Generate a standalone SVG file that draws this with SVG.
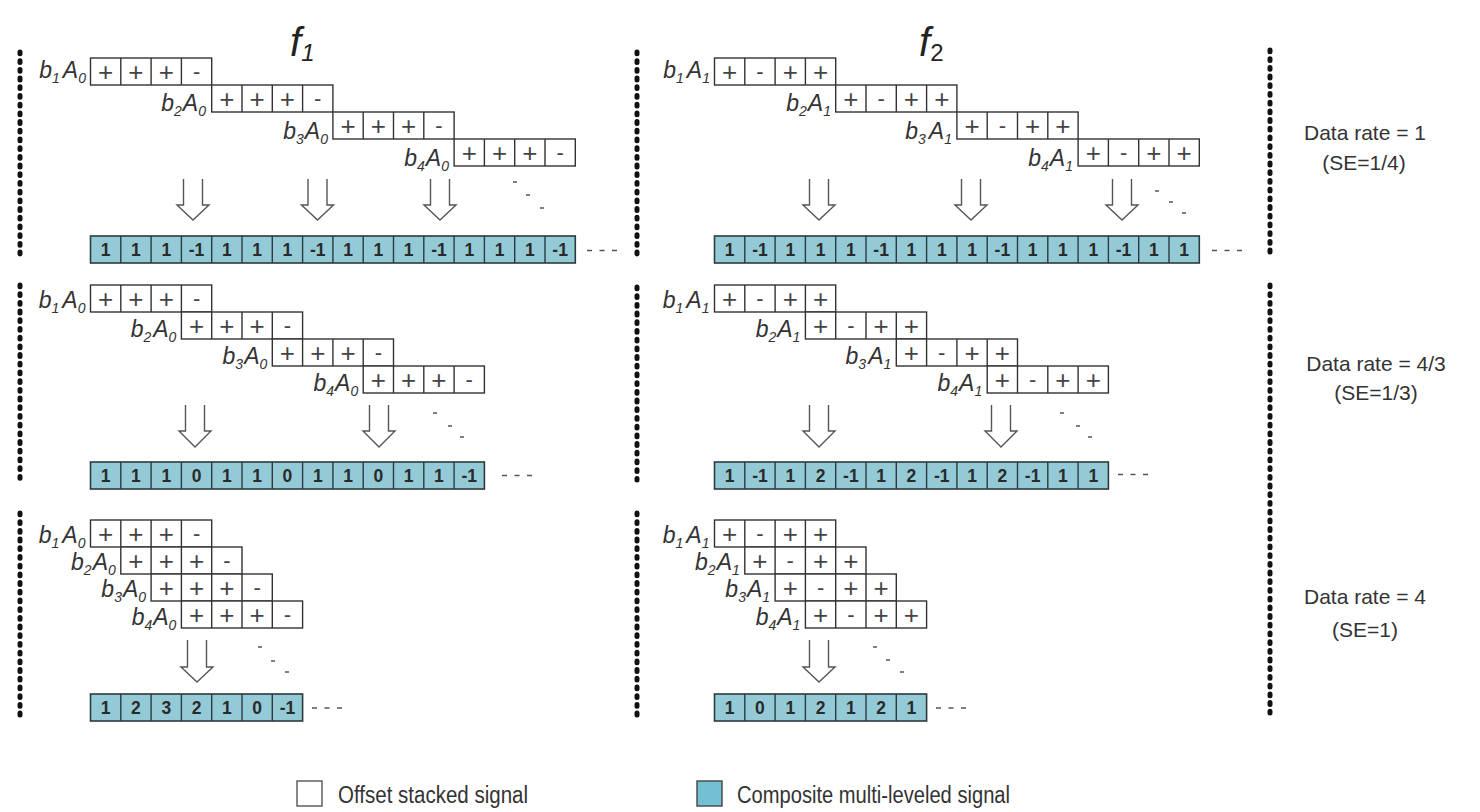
<svg xmlns="http://www.w3.org/2000/svg" xmlns:xlink="http://www.w3.org/1999/xlink" width="1480" height="812" viewBox="0 0 1480 812">
  <style>
    .box{fill:#fff;stroke:#333;stroke-width:1.4}
    .div{fill:none;stroke:#333;stroke-width:1.4}
    .sg{font-family:"Liberation Sans",Arial,sans-serif;font-size:26px;fill:#444;text-anchor:middle}
    .mn{font-family:"Liberation Sans",Arial,sans-serif;font-size:22px;fill:#444;text-anchor:middle}
    .comp{fill:#93cad6;stroke:#2b3b3e;stroke-width:1.6}
    .cdiv{fill:none;stroke:#2b3b3e;stroke-width:1.4}
    .num{font-family:"Liberation Sans",Arial,sans-serif;font-weight:bold;font-size:17.5px;fill:#2a2a2a;text-anchor:middle}
    .lbl{font-family:"Liberation Sans",Arial,sans-serif;font-style:italic;font-size:23px;fill:#333;text-anchor:end}
    .sub{font-size:14px}
    .title{font-family:"Liberation Sans",Arial,sans-serif;font-style:italic;font-size:40px;fill:#222}
    .arrow{fill:none;stroke:#555;stroke-width:1.4;stroke-linejoin:miter}
    .dots{fill:none;stroke:#111;stroke-width:5;stroke-linecap:round;stroke-dasharray:1.8 6.9}
    .dash{fill:none;stroke:#555;stroke-width:1.3}
    .trail{fill:none;stroke:#555;stroke-width:1.3;stroke-dasharray:5 7.5}
    .rate{font-family:"Liberation Sans",Arial,sans-serif;font-size:21px;fill:#333;text-anchor:middle}
    .leg{font-family:"Liberation Sans",Arial,sans-serif;font-size:23px;fill:#333}
  </style>
  <defs>
    <!-- spreading code rows, 4 chips of 30.3 x 27 -->
    <g id="codeA0">
      <rect class="box" x="0" y="0" width="121.2" height="27"/>
      <path class="div" d="M30.3 0v27M60.6 0v27M90.9 0v27"/>
      <text class="sg" x="15.15" y="22.5">+</text>
      <text class="sg" x="45.45" y="22.5">+</text>
      <text class="sg" x="75.75" y="22.5">+</text>
      <text class="mn" x="106.05" y="21">-</text>
    </g>
    <g id="codeA1">
      <rect class="box" x="0" y="0" width="121.2" height="27"/>
      <path class="div" d="M30.3 0v27M60.6 0v27M90.9 0v27"/>
      <text class="sg" x="15.15" y="22.5">+</text>
      <text class="mn" x="45.45" y="21">-</text>
      <text class="sg" x="75.75" y="22.5">+</text>
      <text class="sg" x="106.05" y="22.5">+</text>
    </g>
    <path id="div16" class="cdiv" d="M30.3 0v27M60.6 0v27M90.9 0v27M121.2 0v27M151.5 0v27M181.8 0v27M212.1 0v27M242.4 0v27M272.7 0v27M303 0v27M333.3 0v27M363.6 0v27M393.9 0v27M424.2 0v27M454.5 0v27"/>
    <path id="div13" class="cdiv" d="M30.3 0v27M60.6 0v27M90.9 0v27M121.2 0v27M151.5 0v27M181.8 0v27M212.1 0v27M242.4 0v27M272.7 0v27M303 0v27M333.3 0v27M363.6 0v27"/>
    <path id="div7" class="cdiv" d="M30.3 0v27M60.6 0v27M90.9 0v27M121.2 0v27M151.5 0v27M181.8 0v27"/>
  </defs>

  <rect width="1480" height="812" fill="#fff"/>

  <!-- column titles -->
  <g id="title-f1"><text class="title" x="290" y="56">f<tspan font-size="24" dy="5">1</tspan></text></g>
  <g id="title-f2"><text class="title" x="919" y="56">f<tspan font-size="24" font-style="normal" dy="5">2</tspan></text></g>

  <!-- dotted separators -->
  <g id="separators">
    <path class="dots" d="M20 52V254M20 285V480M20 513V720"/>
    <path class="dots" d="M637 52V254M637 287V480M637 513V720"/>
    <path class="dots" d="M1270 50V256M1270 285V718"/>
  </g>

  <!-- ===== rate 1 : f1 ===== -->
  <g id="r1-f1-b1"><use xlink:href="#codeA0" x="90.5" y="58"/><text class="lbl" x="86" y="78">b<tspan class="sub" dy="5">1</tspan><tspan dx="3" dy="-5">A</tspan><tspan class="sub" dy="5">0</tspan></text></g>
  <g id="r1-f1-b2"><use xlink:href="#codeA0" x="211.7" y="85"/><text class="lbl" x="206" y="111">b<tspan class="sub" dy="5">2</tspan><tspan dx="1" dy="-5">A</tspan><tspan class="sub" dy="5">0</tspan></text></g>
  <g id="r1-f1-b3"><use xlink:href="#codeA0" x="332.9" y="112"/><text class="lbl" x="328" y="139">b<tspan class="sub" dy="5">3</tspan><tspan dx="1" dy="-5">A</tspan><tspan class="sub" dy="5">0</tspan></text></g>
  <g id="r1-f1-b4"><use xlink:href="#codeA0" x="454.1" y="139"/><text class="lbl" x="449" y="166">b<tspan class="sub" dy="5">4</tspan><tspan dx="1" dy="-5">A</tspan><tspan class="sub" dy="5">0</tspan></text></g>
  <g id="r1-f1-sum" transform="translate(90.5 236)">
    <rect class="comp" width="484.8" height="27"/><use xlink:href="#div16"/>
    <text class="num" y="19.8"><tspan x="15.15">1</tspan><tspan x="45.45">1</tspan><tspan x="75.75">1</tspan><tspan x="106.05">-1</tspan><tspan x="136.35">1</tspan><tspan x="166.65">1</tspan><tspan x="196.95">1</tspan><tspan x="227.25">-1</tspan><tspan x="257.55">1</tspan><tspan x="287.85">1</tspan><tspan x="318.15">1</tspan><tspan x="348.45">-1</tspan><tspan x="378.75">1</tspan><tspan x="409.05">1</tspan><tspan x="439.35">1</tspan><tspan x="469.65">-1</tspan></text>
  </g>

  <!-- ===== rate 1 : f2 ===== -->
  <g id="r1-f2-b1"><use xlink:href="#codeA1" x="714.5" y="58"/><text class="lbl" x="710" y="78">b<tspan class="sub" dy="5">1</tspan><tspan dx="3" dy="-5">A</tspan><tspan class="sub" dy="5">1</tspan></text></g>
  <g id="r1-f2-b2"><use xlink:href="#codeA1" x="835.7" y="85"/><text class="lbl" x="831" y="111">b<tspan class="sub" dy="5">2</tspan><tspan dx="1" dy="-5">A</tspan><tspan class="sub" dy="5">1</tspan></text></g>
  <g id="r1-f2-b3"><use xlink:href="#codeA1" x="956.9" y="112"/><text class="lbl" x="952" y="139">b<tspan class="sub" dy="5">3</tspan><tspan dx="3" dy="-5">A</tspan><tspan class="sub" dy="5">1</tspan></text></g>
  <g id="r1-f2-b4"><use xlink:href="#codeA1" x="1078.1" y="139"/><text class="lbl" x="1073" y="166">b<tspan class="sub" dy="5">4</tspan><tspan dx="1" dy="-5">A</tspan><tspan class="sub" dy="5">1</tspan></text></g>
  <g id="r1-f2-sum" transform="translate(714.5 236)">
    <rect class="comp" width="484.8" height="27"/><use xlink:href="#div16"/>
    <text class="num" y="19.8"><tspan x="15.15">1</tspan><tspan x="45.45">-1</tspan><tspan x="75.75">1</tspan><tspan x="106.05">1</tspan><tspan x="136.35">1</tspan><tspan x="166.65">-1</tspan><tspan x="196.95">1</tspan><tspan x="227.25">1</tspan><tspan x="257.55">1</tspan><tspan x="287.85">-1</tspan><tspan x="318.15">1</tspan><tspan x="348.45">1</tspan><tspan x="378.75">1</tspan><tspan x="409.05">-1</tspan><tspan x="439.35">1</tspan><tspan x="469.65">1</tspan></text>
  </g>

  <!-- ===== rate 4/3 : f1 ===== -->
  <g id="r2-f1-b1"><use xlink:href="#codeA0" x="90.5" y="285"/><text class="lbl" x="85.5" y="308">b<tspan class="sub" dy="5">1</tspan><tspan dx="3" dy="-5">A</tspan><tspan class="sub" dy="5">0</tspan></text></g>
  <g id="r2-f1-b2"><use xlink:href="#codeA0" x="181.4" y="312"/><text class="lbl" x="176.4" y="337">b<tspan class="sub" dy="5">2</tspan><tspan dx="2" dy="-5">A</tspan><tspan class="sub" dy="5">0</tspan></text></g>
  <g id="r2-f1-b3"><use xlink:href="#codeA0" x="272.3" y="339"/><text class="lbl" x="267.3" y="364">b<tspan class="sub" dy="5">3</tspan><tspan dx="1" dy="-5">A</tspan><tspan class="sub" dy="5">0</tspan></text></g>
  <g id="r2-f1-b4"><use xlink:href="#codeA0" x="363.2" y="366"/><text class="lbl" x="358.2" y="391">b<tspan class="sub" dy="5">4</tspan><tspan dx="1" dy="-5">A</tspan><tspan class="sub" dy="5">0</tspan></text></g>
  <g id="r2-f1-sum" transform="translate(90.5 462)">
    <rect class="comp" width="393.9" height="27"/><use xlink:href="#div13"/>
    <text class="num" y="19.8"><tspan x="15.15">1</tspan><tspan x="45.45">1</tspan><tspan x="75.75">1</tspan><tspan x="106.05">0</tspan><tspan x="136.35">1</tspan><tspan x="166.65">1</tspan><tspan x="196.95">0</tspan><tspan x="227.25">1</tspan><tspan x="257.55">1</tspan><tspan x="287.85">0</tspan><tspan x="318.15">1</tspan><tspan x="348.45">1</tspan><tspan x="378.75">-1</tspan></text>
  </g>

  <!-- ===== rate 4/3 : f2 ===== -->
  <g id="r2-f2-b1"><use xlink:href="#codeA1" x="714.5" y="285"/><text class="lbl" x="709.5" y="308">b<tspan class="sub" dy="5">1</tspan><tspan dx="3" dy="-5">A</tspan><tspan class="sub" dy="5">1</tspan></text></g>
  <g id="r2-f2-b2"><use xlink:href="#codeA1" x="805.4" y="312"/><text class="lbl" x="800.4" y="337">b<tspan class="sub" dy="5">2</tspan><tspan dx="1" dy="-5">A</tspan><tspan class="sub" dy="5">1</tspan></text></g>
  <g id="r2-f2-b3"><use xlink:href="#codeA1" x="896.3" y="339"/><text class="lbl" x="891.3" y="364">b<tspan class="sub" dy="5">3</tspan><tspan dx="2" dy="-5">A</tspan><tspan class="sub" dy="5">1</tspan></text></g>
  <g id="r2-f2-b4"><use xlink:href="#codeA1" x="987.2" y="366"/><text class="lbl" x="982.2" y="391">b<tspan class="sub" dy="5">4</tspan><tspan dx="1" dy="-5">A</tspan><tspan class="sub" dy="5">1</tspan></text></g>
  <g id="r2-f2-sum" transform="translate(714.5 462)">
    <rect class="comp" width="393.9" height="27"/><use xlink:href="#div13"/>
    <text class="num" y="19.8"><tspan x="15.15">1</tspan><tspan x="45.45">-1</tspan><tspan x="75.75">1</tspan><tspan x="106.05">2</tspan><tspan x="136.35">-1</tspan><tspan x="166.65">1</tspan><tspan x="196.95">2</tspan><tspan x="227.25">-1</tspan><tspan x="257.55">1</tspan><tspan x="287.85">2</tspan><tspan x="318.15">-1</tspan><tspan x="348.45">1</tspan><tspan x="378.75">1</tspan></text>
  </g>

  <!-- ===== rate 4 : f1 ===== -->
  <g id="r3-f1-b1"><use xlink:href="#codeA0" x="90.5" y="520"/><text class="lbl" x="85.5" y="543">b<tspan class="sub" dy="5">1</tspan><tspan dx="3" dy="-5">A</tspan><tspan class="sub" dy="5">0</tspan></text></g>
  <g id="r3-f1-b2"><use xlink:href="#codeA0" x="120.8" y="547"/><text class="lbl" x="115.8" y="570">b<tspan class="sub" dy="5">2</tspan><tspan dx="1" dy="-5">A</tspan><tspan class="sub" dy="5">0</tspan></text></g>
  <g id="r3-f1-b3"><use xlink:href="#codeA0" x="151.1" y="574"/><text class="lbl" x="146.1" y="597">b<tspan class="sub" dy="5">3</tspan><tspan dx="1" dy="-5">A</tspan><tspan class="sub" dy="5">0</tspan></text></g>
  <g id="r3-f1-b4"><use xlink:href="#codeA0" x="181.4" y="601"/><text class="lbl" x="176.4" y="625">b<tspan class="sub" dy="5">4</tspan><tspan dx="1" dy="-5">A</tspan><tspan class="sub" dy="5">0</tspan></text></g>
  <g id="r3-f1-sum" transform="translate(90.5 694)">
    <rect class="comp" width="212.1" height="27"/><use xlink:href="#div7"/>
    <text class="num" y="19.8"><tspan x="15.15">1</tspan><tspan x="45.45">2</tspan><tspan x="75.75">3</tspan><tspan x="106.05">2</tspan><tspan x="136.35">1</tspan><tspan x="166.65">0</tspan><tspan x="196.95">-1</tspan></text>
  </g>

  <!-- ===== rate 4 : f2 ===== -->
  <g id="r3-f2-b1"><use xlink:href="#codeA1" x="714.5" y="520"/><text class="lbl" x="709.5" y="543">b<tspan class="sub" dy="5">1</tspan><tspan dx="3" dy="-5">A</tspan><tspan class="sub" dy="5">1</tspan></text></g>
  <g id="r3-f2-b2"><use xlink:href="#codeA1" x="744.8" y="547"/><text class="lbl" x="739.8" y="570">b<tspan class="sub" dy="5">2</tspan><tspan dx="1" dy="-5">A</tspan><tspan class="sub" dy="5">1</tspan></text></g>
  <g id="r3-f2-b3"><use xlink:href="#codeA1" x="775.1" y="574"/><text class="lbl" x="770.1" y="597">b<tspan class="sub" dy="5">3</tspan><tspan dx="1" dy="-5">A</tspan><tspan class="sub" dy="5">1</tspan></text></g>
  <g id="r3-f2-b4"><use xlink:href="#codeA1" x="805.4" y="601"/><text class="lbl" x="800.4" y="625">b<tspan class="sub" dy="5">4</tspan><tspan dx="1" dy="-5">A</tspan><tspan class="sub" dy="5">1</tspan></text></g>
  <g id="r3-f2-sum" transform="translate(714.5 694)">
    <rect class="comp" width="212.1" height="27"/><use xlink:href="#div7"/>
    <text class="num" y="19.8"><tspan x="15.15">1</tspan><tspan x="45.45">0</tspan><tspan x="75.75">1</tspan><tspan x="106.05">2</tspan><tspan x="136.35">1</tspan><tspan x="166.65">2</tspan><tspan x="196.95">1</tspan></text>
  </g>

  <!-- hollow summing arrows -->
  <g id="connectors">
    <path class="arrow" d="M183.5 179V205H177L193 220L209 205H202.5V179"/>
    <path class="arrow" d="M308 179V205H301.5L317.5 220L333.5 205H327V179"/>
    <path class="arrow" d="M430.5 179V205H424L440 220L456 205H449.5V179"/>
    <path class="arrow" d="M809.5 179V205H803L819 220L835 205H828.5V179"/>
    <path class="arrow" d="M961.5 179V205H955L971 220L987 205H980.5V179"/>
    <path class="arrow" d="M1112.5 179V205H1106L1122 220L1138 205H1131.5V179"/>
    <path class="arrow" d="M185.5 405V431H179L195 447L211 431H204.5V405"/>
    <path class="arrow" d="M369.5 405V431H363L379 447L395 431H388.5V405"/>
    <path class="arrow" d="M809.5 405V431H803L819 447L835 431H828.5V405"/>
    <path class="arrow" d="M991.5 405V431H985L1001 447L1017 431H1010.5V405"/>
    <path class="arrow" d="M187.5 640V667H181L197 682L213 667H206.5V640"/>
    <path class="arrow" d="M809.5 640V667H803L819 682L835 667H828.5V640"/>
  </g>

  <!-- continuation marks -->
  <g id="continuation">
    <path class="dash" d="M513 182h4M526 195h4M540 208h4"/>
    <path class="dash" d="M1155 191h4M1169 202h4M1182 213h4"/>
    <path class="dash" d="M433 413h4M448 426h4M460 437h4"/>
    <path class="dash" d="M1060 413h4M1076 426h4M1088 437h4"/>
    <path class="dash" d="M258 647h4M271 661h4M285 672h4"/>
    <path class="dash" d="M873 647h4M886 660h4M900 672h4"/>
    <path class="trail" d="M587 250.5H618"/>
    <path class="trail" d="M1212 250.5H1243"/>
    <path class="trail" d="M502 475.5H533"/>
    <path class="trail" d="M1118 474.5H1149"/>
    <path class="trail" d="M312 708H343"/>
    <path class="trail" d="M936 708H967"/>
  </g>

  <!-- data rate notes -->
  <g id="rate-1"><text class="rate" x="1365" y="140">Data rate = 1</text><text class="rate" x="1364" y="170">(SE=1/4)</text></g>
  <g id="rate-4-3"><text class="rate" x="1376" y="371">Data rate = 4/3</text><text class="rate" x="1376" y="400">(SE=1/3)</text></g>
  <g id="rate-4"><text class="rate" x="1365" y="604">Data rate = 4</text><text class="rate" x="1365" y="637">(SE=1)</text></g>

  <!-- legend -->
  <g id="legend-offset"><rect x="297" y="781" width="25" height="25" fill="#fff" stroke="#555" stroke-width="1.4"/><text class="leg" x="338" y="803" textLength="190" lengthAdjust="spacingAndGlyphs">Offset stacked signal</text></g>
  <g id="legend-composite"><rect x="697" y="781" width="25" height="25" fill="#74c0d2" stroke="#444" stroke-width="1.4"/><text class="leg" x="737" y="803" textLength="273" lengthAdjust="spacingAndGlyphs">Composite multi-leveled signal</text></g>
</svg>
